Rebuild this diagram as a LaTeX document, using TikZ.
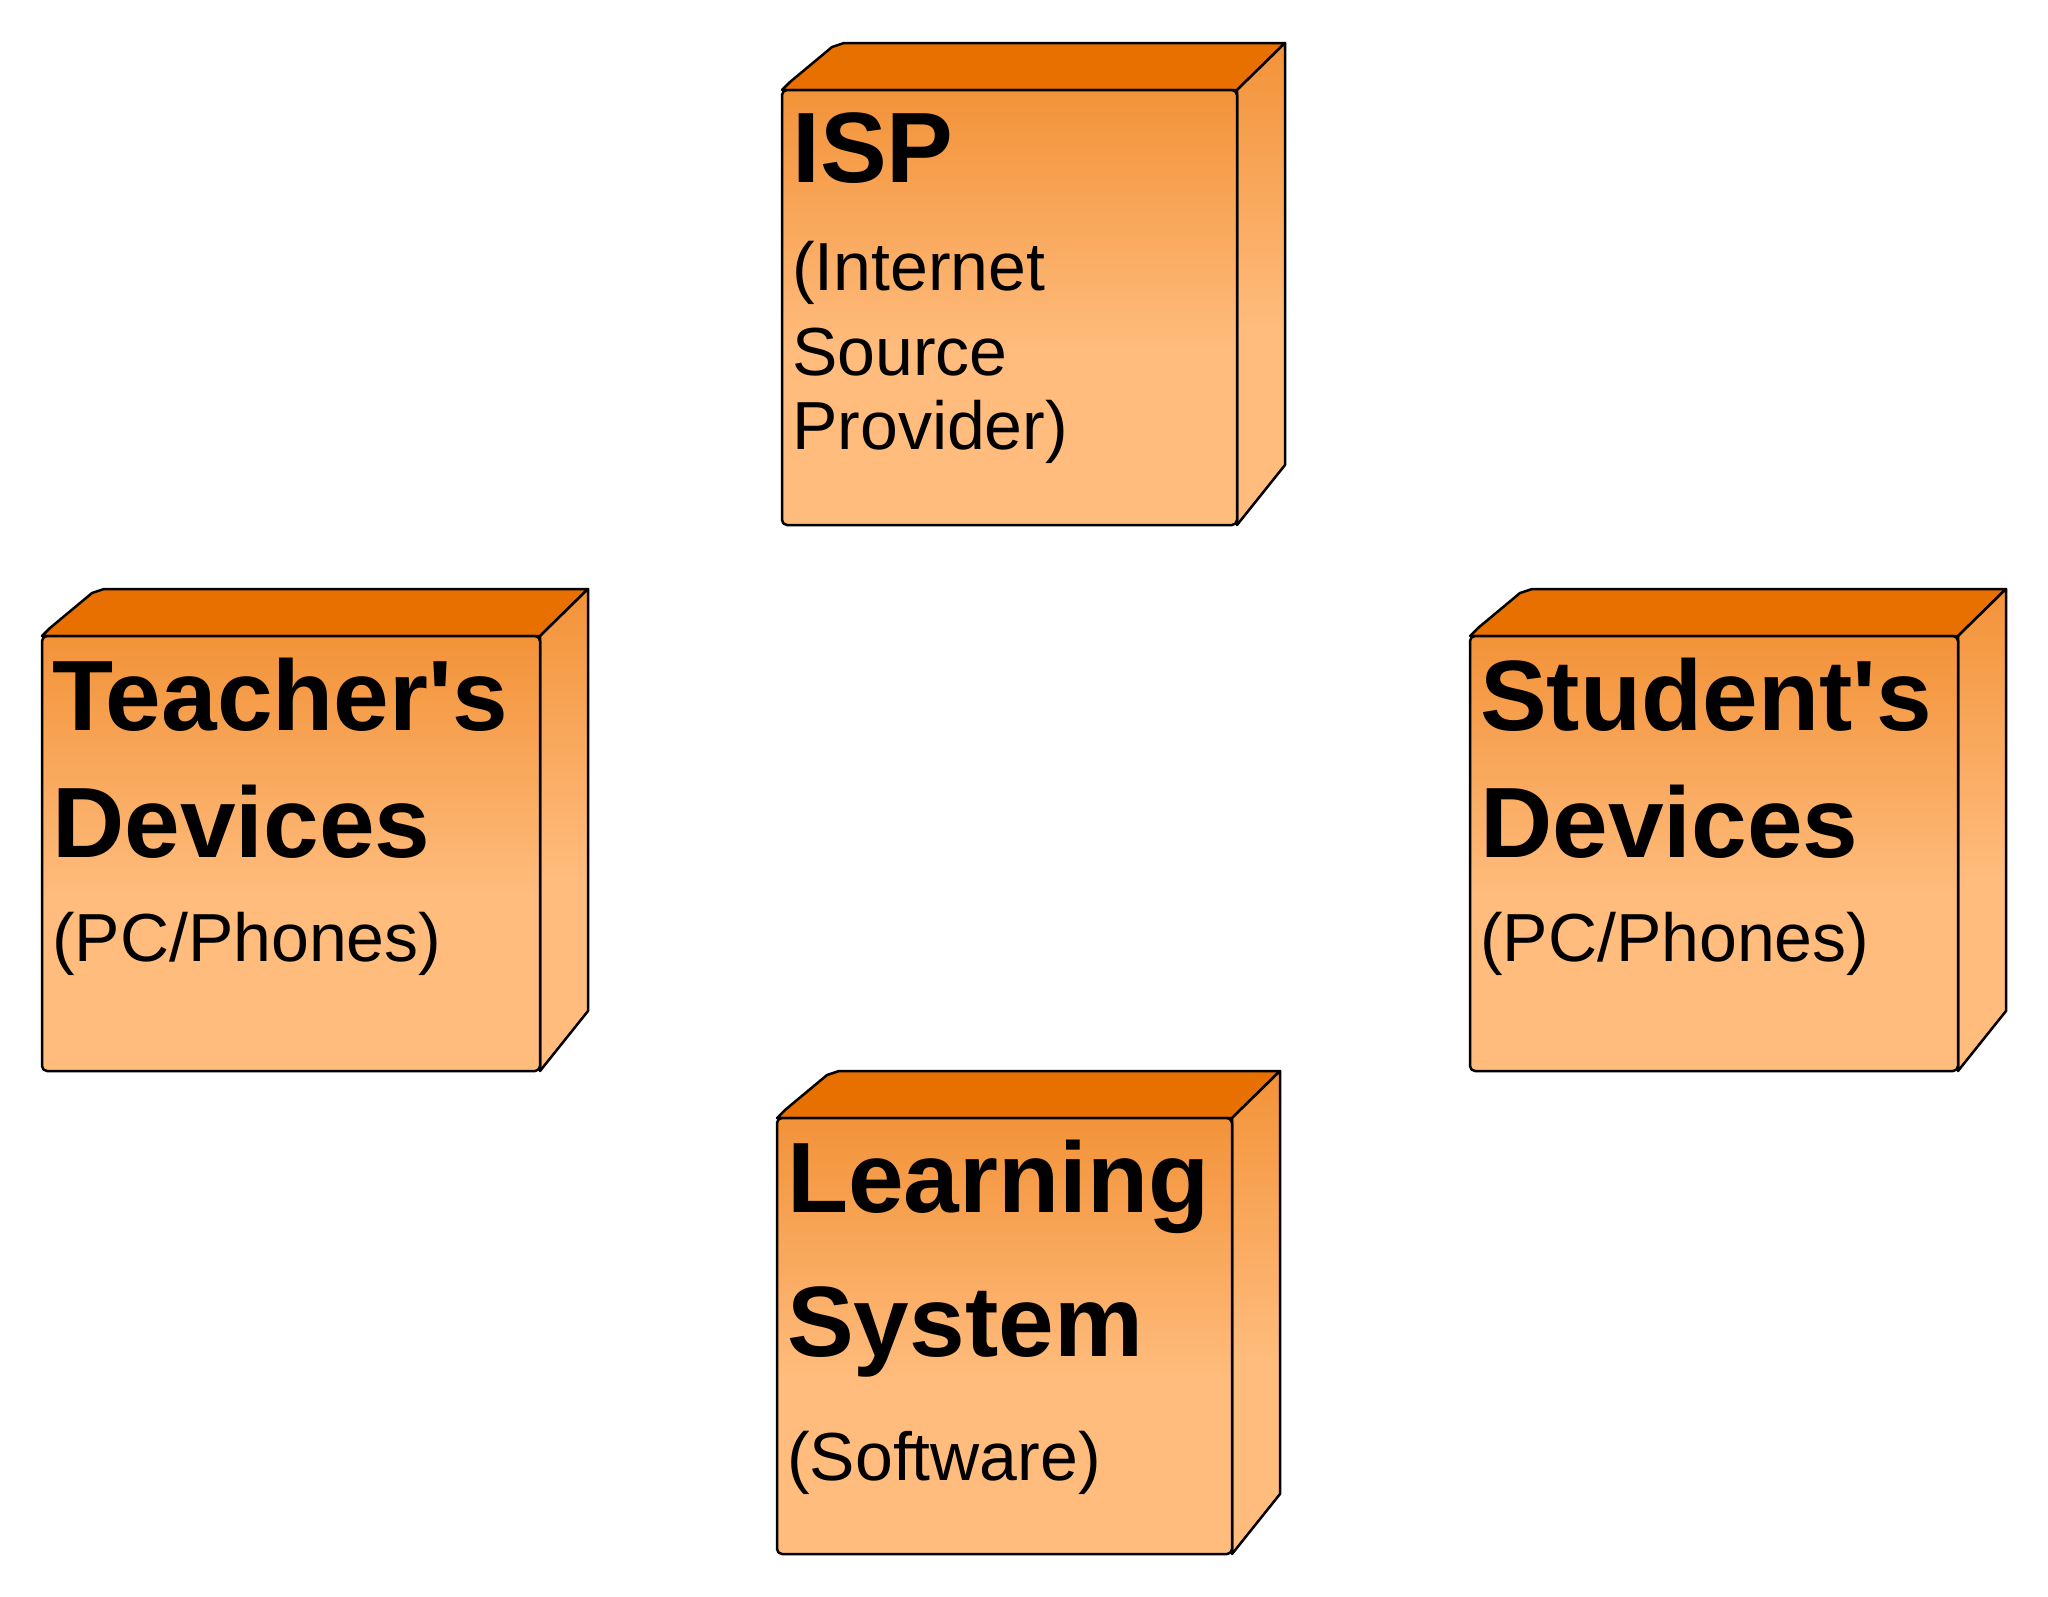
\documentclass[tikz,border=0pt]{standalone}
\usepackage{fontspec}
\setmainfont{Liberation Sans}
\definecolor{darko}{HTML}{E87000}
\definecolor{lighto}{HTML}{FFBC7D}
\pgfdeclareverticalshading{nodesh}{100bp}{color(0bp)=(lighto); color(30bp)=(lighto); color(45bp)=(lighto); color(100bp)=(darko)}
\tikzset{face/.style={draw=black,line width=2.5pt,shading=nodesh,line join=round},
 topface/.style={draw=black,line width=2.5pt,fill=darko,line join=round},
 lbl/.style={anchor=north west,align=left,inner sep=0pt}}
\newcommand{\BF}{\fontsize{100}{124}\selectfont\bfseries}
\newcommand{\NF}{\fontsize{68}{82}\selectfont}
\newcommand{\umlnode}[6]{%
 \draw[topface] (#2,#3) -- (#2+8,#3-8) -- (#2+50,#3-43) -- (#2+62,#3-47) -- (#4+48,#3-47) -- (#4,#3) -- cycle;
 \draw[face] (#4,#3) -- (#4+48,#3-47) -- (#4+48,#5-60) -- (#4,#5) -- cycle;
 \draw[face,rounded corners=5] (#2,#3) rectangle (#4,#5);
 \node[lbl] (#1) at (#2+10,#3+22) {#6};}
\begin{document}
\begin{tikzpicture}[x=1pt,y=-1pt]
\useasboundingbox (0,0) rectangle (2048,1596);
\umlnode{isp}{782}{90}{1237}{525}{\BF ISP\\[57pt]\NF (Internet\\[23pt]\NF Source\\[23pt]\NF Provider)}
\umlnode{teach}{42}{636}{540}{1071}{\BF Teacher\textquotesingle s\\[52pt]\BF Devices\\[53pt]\NF (PC/Phones)}
\umlnode{stud}{1470}{636}{1958}{1071}{\BF Student\textquotesingle s\\[52pt]\BF Devices\\[53pt]\NF (PC/Phones)}
\umlnode{learn}{777}{1118}{1232}{1554}{\BF Learning\\[52pt]\BF System\\[53pt]\NF (Software)}
\end{tikzpicture}
\end{document}
